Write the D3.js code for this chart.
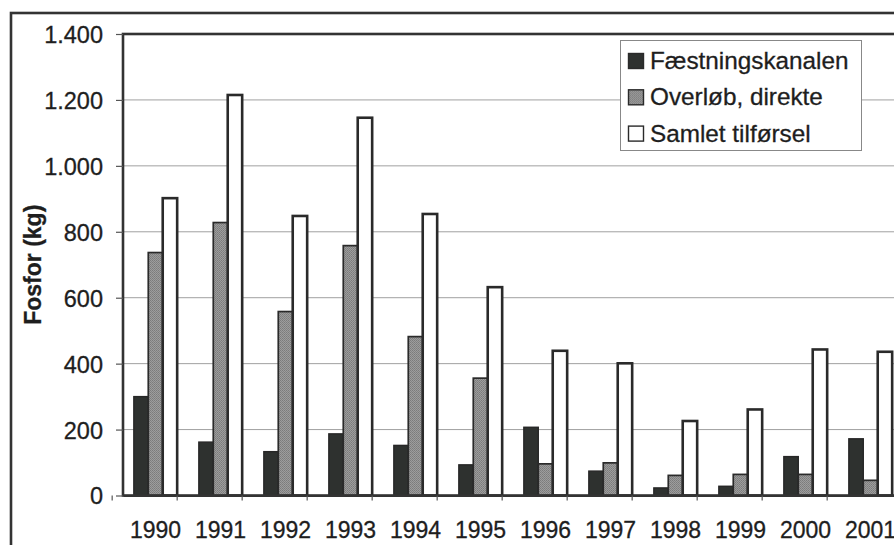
<!DOCTYPE html>
<html>
<head>
<meta charset="utf-8">
<script src="https://cdn.jsdelivr.net/npm/d3@7"></script>
<style>
  html, body { margin: 0; padding: 0; background: #fff; }
  svg { display: block; }
  text { font-family: "Liberation Sans", Arial, Helvetica, sans-serif; fill: #1e1e1e; stroke: #1e1e1e; stroke-width: 0.3px; }
</style>
</head>
<body>
<svg id="chart" width="894" height="545"></svg>
<script>
// Annual phosphorus load (kg)
const years = ["1990","1991","1992","1993","1994","1995","1996","1997","1998","1999","2000","2001"];
const faestningskanalen = [300, 162, 133, 187, 152, 93, 207, 74, 23, 28, 118, 172];
const overlobDirekte    = [737, 828, 558, 758, 482, 356, 96, 99, 61, 64, 64, 46];
const samletTilforsel   = [902, 1215, 848, 1146, 854, 632, 439, 401, 226, 261, 443, 436];
const seriesNames = ["Fæstningskanalen", "Overløb, direkte", "Samlet tilførsel"];
const yTicks = [0, 200, 400, 600, 800, 1000, 1200, 1400];
const yTitle = "Fosfor (kg)";

const series = [faestningskanalen, overlobDirekte, samletTilforsel];
const rows = years.map((y, i) => ({ year: y, values: series.map(s => s[i]) }));

const svg = d3.select("#chart");
const W = 894, H = 545;
const plot = { left: 123, top: 34, right: 903, bottom: 495.5 };

svg.append("rect").attr("width", W).attr("height", H).attr("fill", "#fff");

// halftone fill for the middle series
const defs = svg.append("defs");
const pat = defs.append("pattern").attr("id", "halftone")
  .attr("width", 2).attr("height", 2).attr("patternUnits", "userSpaceOnUse");
pat.append("rect").attr("width", 2).attr("height", 2).attr("fill", "#a4a4a4");
pat.append("rect").attr("width", 1).attr("height", 1).attr("fill", "#737373");
pat.append("rect").attr("x", 1).attr("y", 1).attr("width", 1).attr("height", 1).attr("fill", "#7c7c7c");

const fills = ["#2e312f", "url(#halftone)", "#ffffff"];
const strokes = ["#262626", "#2a2a2a", "#2a2a2a"];
const strokeW = [1.4, 1.7, 2.6];

// outer chart frame
svg.append("rect")
  .attr("x", 11).attr("y", 13).attr("width", 1000).attr("height", 700)
  .attr("fill", "none").attr("stroke", "#333").attr("stroke-width", 2.6);

const x0 = d3.scaleBand().domain(years).range([plot.left, plot.right])
  .paddingInner(1 / 3).paddingOuter(1 / 6);
const x1 = d3.scaleBand().domain(d3.range(series.length)).range([0, x0.bandwidth()]);
const y = d3.scaleLinear().domain([0, 1400]).range([plot.bottom, plot.top]);

const loc = d3.formatLocale({ decimal: ",", thousands: ".", grouping: [3], currency: ["", ""] });
const fmt = loc.format(",");

// gridlines
svg.append("g").selectAll("line").data(yTicks.filter(d => d > 0 && d < 1400)).join("line")
  .attr("x1", plot.left).attr("x2", plot.right)
  .attr("y1", d => y(d)).attr("y2", d => y(d))
  .attr("stroke", "#a0a0a0").attr("stroke-width", 1);

// bars
const groups = svg.append("g").selectAll("g").data(rows).join("g")
  .attr("transform", d => `translate(${x0(d.year)},0)`);
groups.selectAll("rect").data(d => d.values.map((v, k) => ({ v, k }))).join("rect")
  .attr("x", d => x1(d.k))
  .attr("width", x1.bandwidth())
  .attr("y", d => y(d.v))
  .attr("height", d => y(0) - y(d.v))
  .attr("fill", d => fills[d.k])
  .attr("stroke", d => strokes[d.k])
  .attr("stroke-width", d => strokeW[d.k]);

// plot area border (top & left)
svg.append("rect")
  .attr("x", plot.left).attr("y", plot.top)
  .attr("width", plot.right - plot.left).attr("height", plot.bottom - plot.top)
  .attr("fill", "none").attr("stroke", "#333").attr("stroke-width", 2.6);

// y axis
const yAxis = d3.axisLeft(y).tickValues(yTicks).tickFormat(fmt).tickSizeInner(7).tickSizeOuter(0).tickPadding(13);
const gy = svg.append("g").attr("transform", `translate(${plot.left},0)`).call(yAxis);
gy.select(".domain").remove();
gy.selectAll(".tick line").attr("stroke", "#555").attr("stroke-width", 1.2);
gy.selectAll(".tick text").attr("font-size", 23.5).attr("fill", "#1e1e1e")
  .attr("font-family", "'Liberation Sans', Arial, sans-serif").attr("dy", "0.36em");

// x axis
const xAxis = d3.axisBottom(x0).tickSize(0).tickPadding(0);
const gx = svg.append("g").attr("transform", `translate(0,${plot.bottom})`).call(xAxis);
gx.select(".domain").attr("stroke", "#333").attr("stroke-width", 2.2);
gx.selectAll(".tick text").attr("font-size", 23).attr("fill", "#1e1e1e")
  .attr("font-family", "'Liberation Sans', Arial, sans-serif").attr("y", 42).attr("dy", 0);
// category separators
const step = x0.step();
svg.append("g").selectAll("line").data(years).join("line")
  .attr("x1", d => x0(d) - x0.paddingOuter() * step * 2)
  .attr("x2", d => x0(d) - x0.paddingOuter() * step * 2)
  .attr("y1", plot.bottom).attr("y2", plot.bottom + 5)
  .attr("stroke", "#555").attr("stroke-width", 1.2);

// y-axis title
svg.append("text")
  .attr("transform", `translate(41,${(plot.top + plot.bottom) / 2}) rotate(-90)`)
  .attr("text-anchor", "middle")
  .attr("font-size", 23).attr("font-weight", "bold")
  .text(yTitle);

// legend
const lg = svg.append("g");
lg.append("rect").attr("x", 620.5).attr("y", 40.5).attr("width", 241).attr("height", 110)
  .attr("fill", "#fff").attr("stroke", "#888").attr("stroke-width", 1);
const items = lg.selectAll("g").data(seriesNames).join("g")
  .attr("transform", (d, i) => `translate(628,${69 + i * 36.3})`);
items.append("rect").attr("x", 0.5).attr("y", -15.5).attr("width", 15).attr("height", 15)
  .attr("fill", (d, i) => fills[i]).attr("stroke", "#2a2a2a").attr("stroke-width", 1.4);
items.append("text").attr("x", 22).attr("y", 0).attr("font-size", 24.3).text(d => d);
</script>
</body>
</html>
